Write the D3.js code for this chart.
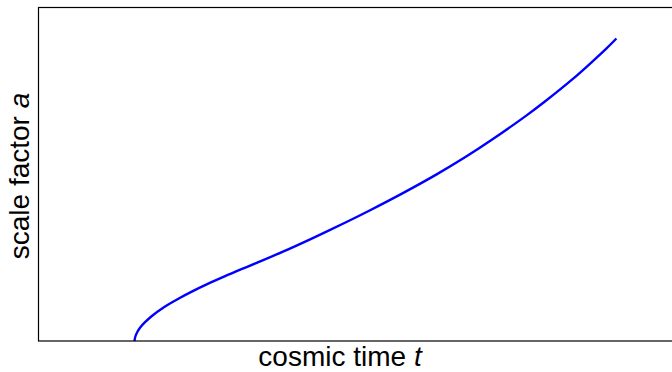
<!DOCTYPE html>
<html>
<head>
<meta charset="utf-8">
<script src="https://cdn.jsdelivr.net/npm/d3@7"></script>
<style>
  html, body { margin: 0; padding: 0; background: #fff; }
  svg { display: block; }
</style>
</head>
<body>
<svg id="chart" width="672" height="372"></svg>
<script>
// cosmic time (arbitrary units)
const timeValues = [0, 0.02, 0.06, 0.12, 0.21, 0.35, 0.62, 0.93, 1.18, 1.51, 1.87, 2.22, 2.55,
  3.07, 3.69, 4.40, 4.88, 5.56, 6.27, 6.85, 7.43, 8.13, 8.51, 9.09, 9.54, 9.79, 10.00];
// scale factor (arbitrary units)
const scaleFactor = [0, 0.045, 0.09, 0.135, 0.183, 0.245, 0.34, 0.427, 0.491, 0.568, 0.646, 0.718, 0.784,
  0.891, 1.027, 1.19, 1.305, 1.476, 1.666, 1.834, 2.017, 2.254, 2.392, 2.618, 2.812, 2.924, 3.025];
const xLabel = "cosmic time ";
const xLabelVar = "t";
const yLabel = "scale factor ";
const yLabelVar = "a";

(function () {
const svg = d3.select("#chart");
const mLeft = 38.5, mTop = 7.5, mRight = 690, mBottom = 341;

const x = d3.scaleLinear().domain([-1.99, 11.5]).range([mLeft, mLeft + 13.49 * 48.2]);
const y = d3.scaleLinear().domain([0, 3.335]).range([mBottom, mTop]);

const data = timeValues.map((t, i) => ({ t, a: scaleFactor[i] }));

svg.append("path")
  .datum(data)
  .attr("fill", "none")
  .attr("stroke", "#0000ff")
  .attr("stroke-width", 2.4)
  .attr("stroke-linejoin", "round")
  .attr("d", d3.line().x(d => x(d.t)).y(d => y(d.a)).curve(d3.curveCatmullRom.alpha(0.5)));

svg.append("rect")
  .attr("x", mLeft).attr("y", mTop)
  .attr("width", mRight - mLeft).attr("height", mBottom - mTop)
  .attr("fill", "none").attr("stroke", "#000").attr("stroke-width", 1.2);

const font = "'Liberation Sans', Arial, Helvetica, sans-serif";

const xt = svg.append("text")
  .attr("x", 340).attr("y", 366)
  .attr("text-anchor", "middle")
  .style("font-family", font).style("font-size", "28px").attr("fill", "#000");
xt.append("tspan").text(xLabel);
xt.append("tspan").style("font-style", "italic").text(xLabelVar);

const yt = svg.append("text")
  .attr("transform", "translate(29,176) rotate(-90)")
  .attr("text-anchor", "middle")
  .style("font-family", font).style("font-size", "28px").attr("fill", "#000");
yt.append("tspan").text(yLabel);
yt.append("tspan").style("font-style", "italic").text(yLabelVar);
})();
</script>
</body>
</html>
